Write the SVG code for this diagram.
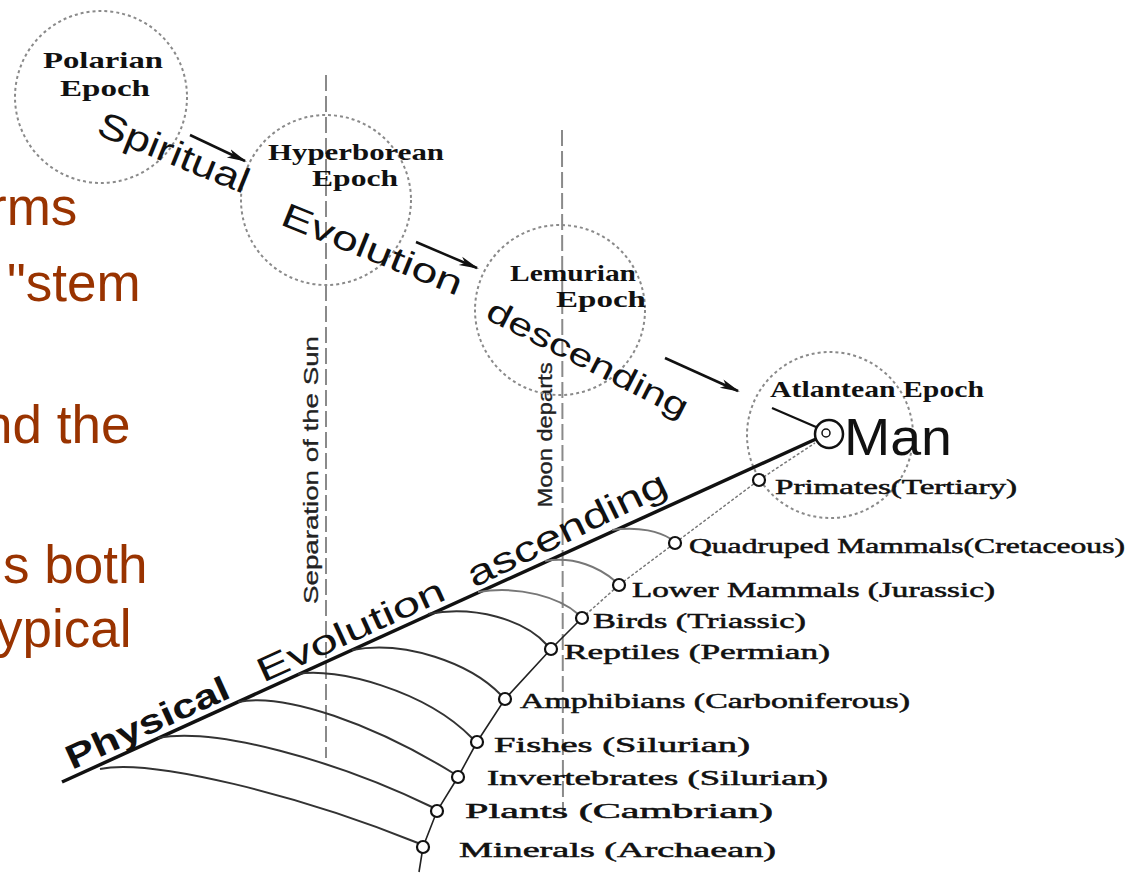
<svg xmlns="http://www.w3.org/2000/svg" width="1142" height="874" viewBox="0 0 1142 874">
<style>
.bg{fill:#fff}
.brown{font-family:"Liberation Sans",Arial,sans-serif;font-size:53px;fill:#993300}
.epoch{fill:none;stroke:#8a8a8a;stroke-width:2;stroke-dasharray:3 3}
.vline{stroke:#8a8a8a;stroke-width:2;stroke-dasharray:16 5}
.elab{font-family:"Liberation Serif",serif;font-weight:bold;font-size:24px;fill:#111}
.big{font-family:"Liberation Sans",Arial,sans-serif;fill:#111}
.vlab{font-family:"Liberation Sans",Arial,sans-serif;font-size:20px;fill:#222;stroke:#222;stroke-width:0.3}
.nlab{font-family:"Liberation Serif",serif;font-size:21px;fill:#111;stroke:#111;stroke-width:0.5}
.node{fill:#fff;stroke:#111;stroke-width:2.2}
.branch{fill:none;stroke:#333;stroke-width:2}
.branch2{fill:none;stroke:#777;stroke-width:2}
.chain{fill:none;stroke:#222;stroke-width:1.6}
.chaind{fill:none;stroke:#777;stroke-width:1.5;stroke-dasharray:3 2}
.arrow{stroke:#111;stroke-width:2.5;marker-end:url(#ah)}
</style>
<defs>
<marker id="ah" markerUnits="userSpaceOnUse" markerWidth="20" markerHeight="12" refX="18" refY="6" orient="auto">
<path d="M0,1.5 L20,6 L0,10.5 L5,6 z" fill="#111"/>
</marker>
</defs>
<rect class="bg" width="1142" height="874"/>

<g id="slide-text">
<text class="brown" x="-11" y="225" font-size="46">rms</text>
<text class="brown" x="7" y="301">"stem</text>
<text class="brown" x="-17" y="443">nd the</text>
<text class="brown" x="3" y="583">s both</text>
<text class="brown" x="-4" y="647">ypical</text>
</g>

<g id="guides">
<line class="vline" x1="326" y1="75" x2="326" y2="758"/>
<line class="vline" x1="562" y1="130" x2="563" y2="822"/>
<text class="vlab" transform="translate(318,470) rotate(-90)" text-anchor="middle" textLength="268" lengthAdjust="spacingAndGlyphs">Separation of the Sun</text>
<text class="vlab" transform="translate(552,435) rotate(-90)" text-anchor="middle" textLength="145" lengthAdjust="spacingAndGlyphs" font-size="18">Moon departs</text>
</g>

<g id="polarian">
<circle class="epoch" cx="101" cy="97" r="86"/>
<text class="elab" x="43" y="68" textLength="120" lengthAdjust="spacingAndGlyphs">Polarian</text>
<text class="elab" x="60" y="96" font-size="26" textLength="90" lengthAdjust="spacingAndGlyphs">Epoch</text>
</g>
<g id="hyperborean">
<circle class="epoch" cx="326" cy="200" r="85"/>
<text class="elab" x="268" y="160" font-size="22" textLength="176" lengthAdjust="spacingAndGlyphs">Hyperborean</text>
<text class="elab" x="312" y="186" font-size="22" textLength="86" lengthAdjust="spacingAndGlyphs">Epoch</text>
</g>
<g id="lemurian">
<circle class="epoch" cx="560" cy="310" r="85"/>
<text class="elab" x="510" y="281" font-size="23" textLength="126" lengthAdjust="spacingAndGlyphs">Lemurian</text>
<text class="elab" x="556" y="307" font-size="23" textLength="90" lengthAdjust="spacingAndGlyphs">Epoch</text>
</g>
<g id="atlantean">
<circle class="epoch" cx="830" cy="435" r="83"/>
<text class="elab" x="770" y="397" font-size="23" textLength="214" lengthAdjust="spacingAndGlyphs">Atlantean Epoch</text>
</g>

<g id="flow-labels">
<text class="big" font-size="36" transform="translate(95,134) rotate(22)" textLength="160" lengthAdjust="spacingAndGlyphs">Spiritual</text>
<text class="big" font-size="34" transform="translate(279,224) rotate(22)" textLength="192" lengthAdjust="spacingAndGlyphs">Evolution</text>
<text class="big" font-size="32" transform="translate(484,318) rotate(27)" textLength="222" lengthAdjust="spacingAndGlyphs">descending</text>
<text class="big" font-size="34" font-weight="bold" transform="translate(72,770) rotate(-24.5)" textLength="176" lengthAdjust="spacingAndGlyphs">Physical</text>
<text class="big" font-size="34" transform="translate(263,683) rotate(-24.5)" textLength="203" lengthAdjust="spacingAndGlyphs">Evolution</text>
<text class="big" font-size="36" transform="translate(474,588) rotate(-26)" textLength="218" lengthAdjust="spacingAndGlyphs">ascending</text>
</g>

<g id="connectors">
<line class="arrow" x1="190" y1="135" x2="245" y2="161"/>
<line class="arrow" x1="416" y1="242" x2="477" y2="268"/>
<line class="arrow" x1="665" y1="358" x2="738" y2="391"/>
<line x1="62" y1="782" x2="816" y2="439" stroke="#111" stroke-width="3.5"/>
<line x1="772" y1="408" x2="816" y2="427" stroke="#111" stroke-width="2.2"/>
<path class="branch" d="M100,769 C150,758 300,795 418,843"/>
<path class="branch" d="M158,738 C215,727 335,760 432,807"/>
<path class="branch" d="M238,702 C285,692 375,725 453,773"/>
<path class="branch" d="M298,674 C335,667 425,690 472,738"/>
<path class="branch" d="M352,650 C405,640 470,663 501,695"/>
<path class="branch" d="M428,614 C475,605 525,620 547,645"/>
<path class="branch2" d="M478,592 C520,585 560,598 578,614"/>
<path class="branch2" d="M545,561 C575,556 600,568 615,581"/>
<path class="branch2" d="M612,530 C640,526 660,532 671,539"/>
<polyline class="chain" points="419,872 423,847 437,811 458,777 477,742 505,699 551,649 582,618"/>
<polyline class="chaind" points="582,618 619,585 675,543 759,480 815,443"/>
</g>

<g id="man">
<circle cx="829" cy="434" r="14" fill="#fff" stroke="#111" stroke-width="2.5"/>
<circle cx="826" cy="433" r="4" fill="none" stroke="#111" stroke-width="1.5"/>
<text class="big" x="844" y="455" font-size="52" textLength="108" lengthAdjust="spacingAndGlyphs">Man</text>
</g>
<g id="primates"><circle class="node" cx="759" cy="480" r="6"/><text class="nlab" x="775" y="494" textLength="242" lengthAdjust="spacingAndGlyphs">Primates(Tertiary)</text></g>
<g id="quadruped"><circle class="node" cx="675" cy="543" r="6"/><text class="nlab" x="689" y="553" textLength="436" lengthAdjust="spacingAndGlyphs">Quadruped Mammals(Cretaceous)</text></g>
<g id="lower-mammals"><circle class="node" cx="619" cy="585" r="6"/><text class="nlab" x="632" y="597" textLength="363" lengthAdjust="spacingAndGlyphs">Lower Mammals (Jurassic)</text></g>
<g id="birds"><circle class="node" cx="582" cy="618" r="6"/><text class="nlab" x="593" y="628" textLength="213" lengthAdjust="spacingAndGlyphs">Birds (Triassic)</text></g>
<g id="reptiles"><circle class="node" cx="551" cy="649" r="6"/><text class="nlab" x="564" y="659" textLength="266" lengthAdjust="spacingAndGlyphs">Reptiles (Permian)</text></g>
<g id="amphibians"><circle class="node" cx="505" cy="699" r="6"/><text class="nlab" x="520" y="708" textLength="390" lengthAdjust="spacingAndGlyphs">Amphibians (Carboniferous)</text></g>
<g id="fishes"><circle class="node" cx="477" cy="742" r="6"/><text class="nlab" x="494" y="752" textLength="256" lengthAdjust="spacingAndGlyphs">Fishes (Silurian)</text></g>
<g id="invertebrates"><circle class="node" cx="458" cy="777" r="6"/><text class="nlab" x="487" y="785" textLength="341" lengthAdjust="spacingAndGlyphs">Invertebrates (Silurian)</text></g>
<g id="plants"><circle class="node" cx="437" cy="811" r="6"/><text class="nlab" x="465" y="818" textLength="308" lengthAdjust="spacingAndGlyphs">Plants  (Cambrian)</text></g>
<g id="minerals"><circle class="node" cx="423" cy="847" r="6"/><text class="nlab" x="459" y="857" textLength="317" lengthAdjust="spacingAndGlyphs">Minerals (Archaean)</text></g>
</svg>
